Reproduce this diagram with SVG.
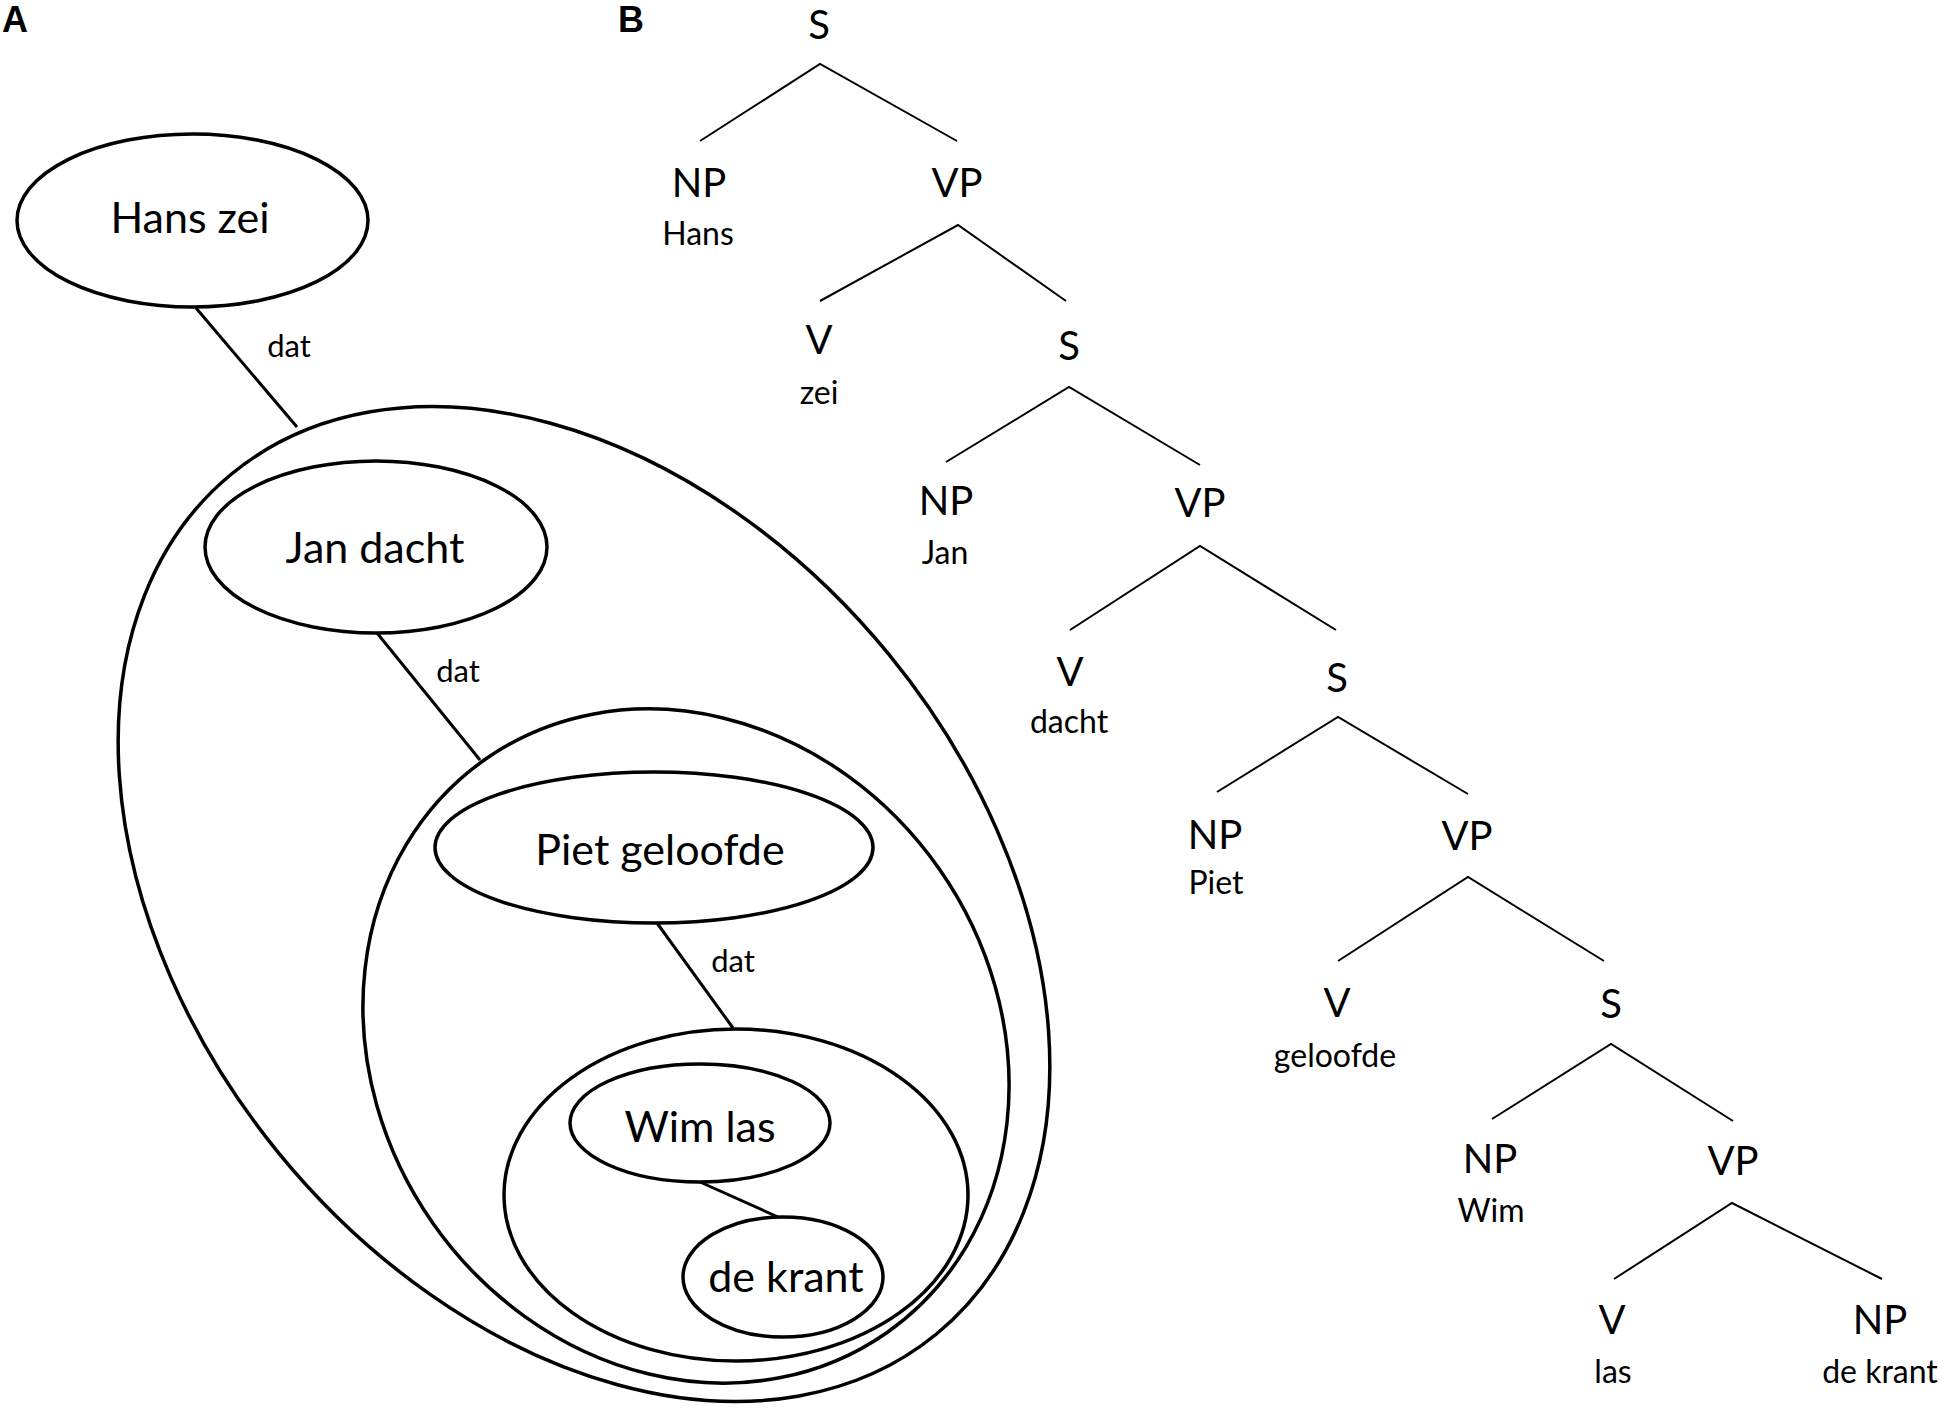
<svg xmlns="http://www.w3.org/2000/svg" width="1950" height="1418" viewBox="0 0 1950 1418">
<style>
.panel{font-family:"Liberation Sans",Arial,sans-serif;font-weight:bold;font-size:36px;fill:#000}
.el{fill:none;stroke:#000;stroke-width:3.5}
.con{stroke:#000;stroke-width:3;fill:none}
.tl{stroke:#000;stroke-width:2;fill:none}
.lab{font-family:Lato,"Liberation Sans",sans-serif;font-size:43px;fill:#000;text-anchor:middle}
.dat{font-family:Lato,"Liberation Sans",sans-serif;font-size:31px;fill:#000;text-anchor:middle}
.cat{font-family:Lato,"Liberation Sans",sans-serif;font-size:40px;fill:#000;text-anchor:middle}
.word{font-family:Lato,"Liberation Sans",sans-serif;font-size:32px;fill:#000;text-anchor:middle}
</style>
<rect width="1950" height="1418" fill="#fff"/>
<text class="panel" x="2" y="32">A</text>
<text class="panel" x="618" y="32">B</text>

<g id="panelA-connectors">
<line class="con" x1="196" y1="308" x2="297" y2="427"/>
<line class="con" x1="377" y1="633" x2="480" y2="760"/>
<line class="con" x1="657" y1="923" x2="733" y2="1028"/>
<line class="con" x1="700" y1="1182" x2="778" y2="1217"/>
<text class="dat" x="289" y="357">dat</text>
<text class="dat" x="458" y="682">dat</text>
<text class="dat" x="733" y="972">dat</text>
</g>

<g id="outer-group"><ellipse class="el" cx="0" cy="0" rx="556" ry="394" transform="translate(584 904) rotate(50.7)"/></g>
<g id="middle-group"><ellipse class="el" cx="0" cy="0" rx="350" ry="309" transform="translate(686 1046) rotate(55)"/></g>
<g id="inner-group"><ellipse class="el" cx="736" cy="1195" rx="232" ry="166"/></g>

<g id="node-hans-zei"><ellipse class="el" cx="192.5" cy="220.5" rx="175.5" ry="86.5"/><text class="lab" x="190" y="233">Hans zei</text></g>
<g id="node-jan-dacht"><ellipse class="el" cx="376" cy="547" rx="171" ry="86"/><text class="lab" x="375" y="563">Jan dacht</text></g>
<g id="node-piet-geloofde"><ellipse class="el" cx="654" cy="847.5" rx="219" ry="75.5"/><text class="lab" x="660" y="865">Piet geloofde</text></g>
<g id="node-wim-las"><ellipse class="el" cx="700" cy="1123" rx="130" ry="59"/><text class="lab" x="700" y="1142">Wim las</text></g>
<g id="node-de-krant"><ellipse class="el" cx="783" cy="1277" rx="100" ry="60"/><text class="lab" x="786" y="1292">de krant</text></g>

<g id="tree-connectors">
<polyline class="tl" points="700,141 820,64 957,141"/>
<polyline class="tl" points="820,301 958,225 1066,301"/>
<polyline class="tl" points="946,462 1069,387 1200,465"/>
<polyline class="tl" points="1070,630 1200,546 1336,630"/>
<polyline class="tl" points="1217,792 1338,717 1468,794"/>
<polyline class="tl" points="1338,961 1468,877 1604,961"/>
<polyline class="tl" points="1492,1119 1611,1044 1733,1121"/>
<polyline class="tl" points="1614,1279 1732,1203 1882,1279"/>
</g>

<g id="t-S0"><text class="cat" x="819" y="39">S</text></g>
<g id="t-NP1"><text class="cat" x="699" y="197">NP</text><text class="word" x="698" y="245">Hans</text></g>
<g id="t-VP1"><text class="cat" x="957" y="197">VP</text></g>
<g id="t-V2"><text class="cat" x="819" y="354">V</text><text class="word" x="819" y="404">zei</text></g>
<g id="t-S2"><text class="cat" x="1069" y="360">S</text></g>
<g id="t-NP3"><text class="cat" x="946" y="515">NP</text><text class="word" x="945" y="564">Jan</text></g>
<g id="t-VP3"><text class="cat" x="1200" y="517">VP</text></g>
<g id="t-V4"><text class="cat" x="1070" y="686">V</text><text class="word" x="1069" y="733">dacht</text></g>
<g id="t-S4"><text class="cat" x="1337" y="692">S</text></g>
<g id="t-NP5"><text class="cat" x="1215" y="849">NP</text><text class="word" x="1216" y="894">Piet</text></g>
<g id="t-VP5"><text class="cat" x="1467" y="850">VP</text></g>
<g id="t-V6"><text class="cat" x="1337" y="1017">V</text><text class="word" x="1335" y="1067">geloofde</text></g>
<g id="t-S6"><text class="cat" x="1611" y="1018">S</text></g>
<g id="t-NP7"><text class="cat" x="1490" y="1173">NP</text><text class="word" x="1491" y="1222">Wim</text></g>
<g id="t-VP7"><text class="cat" x="1733" y="1175">VP</text></g>
<g id="t-V8"><text class="cat" x="1612" y="1334">V</text><text class="word" x="1613" y="1383">las</text></g>
<g id="t-NP8"><text class="cat" x="1880" y="1334">NP</text><text class="word" x="1880" y="1383">de krant</text></g>
</svg>
